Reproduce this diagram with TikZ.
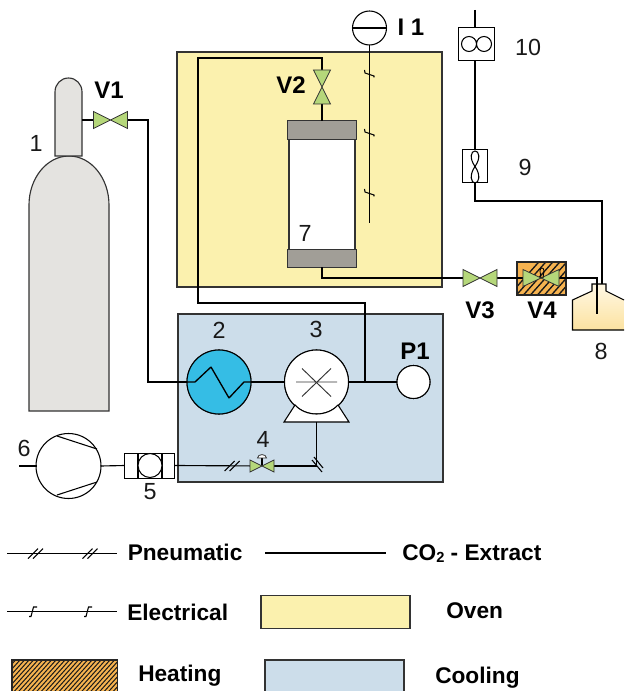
\documentclass[tikz,border=0pt]{standalone}
\usepackage{fontspec}
\setmainfont{Liberation Sans}
\definecolor{ovenc}{HTML}{FBF1AE}
\definecolor{coolc}{HTML}{CCDDEA}
\definecolor{valvec}{HTML}{B5D77A}
\definecolor{capc}{HTML}{A19E97}
\definecolor{cylc}{HTML}{E4E3E0}
\definecolor{hxc}{HTML}{35BDE5}
\definecolor{hatchc}{HTML}{F6B350}
\definecolor{linec}{HTML}{333333}
\definecolor{flasktopc}{HTML}{FFF8E4}
\definecolor{flaskbotc}{HTML}{FCE2A0}
\tikzset{
  zone/.style={draw=linec,line width=.9pt,inner sep=0,outer sep=0},
  pipe/.style={draw=black,line width=1.5pt,line join=miter},
  sig/.style={draw=black,line width=.85pt},
  thinl/.style={draw=black,line width=.8pt},
  valvebox/.style={inner sep=0,outer sep=0,minimum width=25.5pt,minimum height=12.75pt},
  valvev/.style={inner sep=0,outer sep=0,minimum width=12.75pt,minimum height=25.5pt},
  valveshape/.style={fill=valvec,draw=linec,line width=.6pt,line join=miter},
  round1/.style={circle,draw=black,line width=.8pt,inner sep=0,outer sep=0,fill=white},
  capbox/.style={draw=linec,line width=.75pt,fill=capc},
  lab/.style={font=\fontsize{17.5}{20}\selectfont,inner sep=0,text=black!90},
  blab/.style={font=\bfseries\fontsize{17}{20}\selectfont,inner sep=0,text=black},
  vlab/.style={font=\bfseries\fontsize{18}{20}\selectfont,inner sep=0,text=black},
  boxn/.style={draw=black,line width=.75pt,fill=white,inner sep=0,outer sep=0}
}
\newcommand{\hbow}[1]{\draw[valveshape] (#1.north west)--(#1.south east)--(#1.north east)--(#1.south west)--cycle;}
\newcommand{\vbow}[1]{\draw[valveshape] (#1.north west)--(#1.south east)--(#1.south west)--(#1.north east)--cycle;}
\newcommand{\etick}[2]{\draw[thinl] ({#1-5},{#2-5})--({#1-4.5},{#2-2})--({#1+4.5},{#2+1})--({#1+4.5},{#2+2.5});}
\newcommand{\legelec}[2]{\draw[thinl] ({#1+4},{#2-4.5})--({#1+.5},{#2-4.5})--({#1-2},{#2+5})--({#1-4},{#2+5});}
\newcommand{\pnt}[2]{\draw[thinl] ({#1-7.5},{#2+5})--({#1+2.5},{#2-5});\draw[thinl] ({#1-2.5},{#2+5})--({#1+7.5},{#2-5});}
\begin{document}
\begin{tikzpicture}[x=.75pt,y=-.75pt]
\useasboundingbox (0,0) rectangle (624,691);
% zones
\node[zone,fill=ovenc,minimum width=198.75pt,minimum height=176.25pt,anchor=north west] (oven) at (177,52) {};
\node[zone,fill=coolc,minimum width=198.75pt,minimum height=126pt,anchor=north west] (cool) at (178,314) {};
% cylinder
\path[draw=linec,line width=.85pt,fill=cylc] (29,411) -- (29,205) .. controls (29,178) and (47,156) .. (69,156) .. controls (91,156) and (109,178) .. (109,205) -- (109,411) -- cycle;
\path[draw=linec,line width=.85pt,fill=cylc] (55,156) -- (55,92) .. controls (55,84) and (61,78) .. (68.5,78) .. controls (76,78) and (82,84) .. (82,92) -- (82,156) -- cycle;
\coordinate (neck) at (82,120);
% named parts
\node[valvebox] (v1) at (110.5,120) {};
\node[valvev] (v2) at (322,87) {};
\node[valvebox] (v3) at (480,278) {};
\node[inner sep=0,outer sep=0,minimum width=27pt,minimum height=12.75pt] (v4) at (541,278) {};
\node[inner sep=0,outer sep=0,minimum width=18pt,minimum height=9pt] (v5) at (262,466) {};
\node[round1,fill=hxc,minimum size=48pt] (hx) at (219,382) {};
\node[round1,minimum size=48pt] (pump) at (316.5,382) {};
\node[round1,minimum size=24.75pt] (p1) at (413.5,382) {};
\node[round1,minimum size=25.5pt] (i1) at (369.5,28) {};
\node[round1,minimum size=48.75pt] (comp) at (68.5,466) {};
\node[boxn,minimum width=37pt,minimum height=18.75pt] (b5) at (149.5,465.5) {};
\node[boxn,minimum width=27pt,minimum height=24.75pt] (b10) at (476,44) {};
\node[boxn,minimum width=18.75pt,minimum height=24.75pt] (b9) at (474.5,166.5) {};
% column
\node[draw=linec,line width=.85pt,fill=white,minimum width=49.5pt,minimum height=84pt,inner sep=0,outer sep=0] (col) at (322,195) {};
\node[capbox,minimum width=51.75pt,minimum height=14.25pt,inner sep=0,outer sep=0] (cap1) at (322,130.5) {};
\node[capbox,minimum width=51.75pt,minimum height=12.75pt,inner sep=0,outer sep=0] (cap2) at (322,258.5) {};
% flask
\path[draw=black,line width=.8pt,top color=flasktopc,bottom color=flaskbotc] (624,330) -- (572.5,330) -- (572.5,300) -- (592,291) -- (592,284) -- (606,284) -- (606,291) -- (624,300);
\coordinate (flasktop) at (602,284);
\coordinate (flaskin) at (597,314);
% heating box V4
\node[draw=none,fill=hatchc,minimum width=36.75pt,minimum height=24.75pt,inner sep=0,outer sep=0] (heat) at (541.5,278.5) {};
\begin{scope}
\clip (heat.south west) rectangle (heat.north east);
\foreach \i in {0,7,...,100}{\draw[black!90,line width=1pt] ({505+\i},300)--({505+\i+40},255);}
\end{scope}
\draw[draw=black!85,line width=.85pt] (heat.south west) rectangle (heat.north east);
% pipes
\draw[pipe] (neck) -- (v1);
\draw[pipe] (v1) -| (148,382) -- (hx);
\draw[pipe] (hx) -- (pump);
\draw[pipe] (pump) -- (p1);
\draw[pipe] (365,382) -- (365,303) -- (198,303) -- (198,58) -| (v2);
\draw[pipe] (v2) -- (cap1);
\draw[pipe] (cap2) |- (v3);
\draw[pipe] (v3) -- (v4);
\draw[pipe] (v4) -- (597,278) -- (flaskin);
\draw[pipe] (475,183) |- (602,201) -- (flasktop);
\draw[pipe] (475,60) -- (475,150);
\draw[thinl,line width=1pt] (475,10) -- (475,28);
\draw[thinl,line width=1pt] (comp) ++(-32,0) -- (19,466);
% redraw nodes over pipes
\node[round1,fill=hxc,minimum size=48pt] at (hx) {};
\draw[thinl,line width=1pt,line join=bevel] (186,382) -- (195,382) -- (211,367) -- (229,398) -- (244,382) -- (251,382);
\node[round1,minimum size=48pt] at (pump) {};
\draw[draw=linec,line width=.7pt] (296,382) -- (337,382) (302,368.5) -- (331,396.5) (302,396.5) -- (331,368.5);
\draw[draw=black,line width=.8pt,fill=white] (349,422) -- (284,422) -- (295,405) .. controls (306,417) and (327,417) .. (338,405) -- cycle;
\node[round1,minimum size=24.75pt] at (p1) {};
\node[boxn,minimum width=27pt,minimum height=24.75pt] at (b10) {};
\node[boxn,minimum width=18.75pt,minimum height=24.75pt] at (b9) {};
\draw[thinl] (469,44) circle (7.5) (484,44) circle (7.5);
\draw[thinl] (475,166.5) .. controls (469,158) and (471,151) .. (475,151) .. controls (479,151) and (481,158) .. (475,166.5) .. controls (469,175) and (471,183) .. (475,183) .. controls (479,183) and (481,175) .. (475,166.5);
% valves
\hbow{v1}\vbow{v2}\hbow{v3}\hbow{v4}
\draw[thinl,line width=.6pt] (541,278) -- (540,271) .. controls (540,267) and (544,267) .. (544,271) -- (543,278);
% electrical
\coordinate (i1end) at (369.5,223);
\draw[thinl] (i1.south) -- (i1end);
\draw[thinl] (i1.west) -- (i1.east);
\etick{369.5}{75}\etick{369.5}{134}\etick{369.5}{194}
% pneumatic
\draw[sig] (comp) ++(32,0) -- (b5.west);
\node[boxn,minimum width=37pt,minimum height=18.75pt] at (b5) {};
\draw[thinl] (138,453) -- (138,478) (162,453) -- (162,478);
\node[round1,minimum size=18pt] at (150,465.5) {};
\draw[sig] (b5.east) -- (v5);
\draw[sig] (v5) -- (316.5,466) -- (316.5,422);
\draw[sig] (262,466) -- (262,458);
\draw[draw=linec,line width=.6pt,fill=white] (257.5,458) .. controls (257.5,453.5) and (266.5,453.5) .. (266.5,458) -- cycle;
\draw[draw=linec,line width=.6pt,fill=valvec] (v5.north west) -- (v5.south east) -- (v5.north east) -- (v5.south west) -- cycle;
\pnt{232}{466}
\draw[thinl] (312,460) -- (322,472) (314,457) -- (323,468);
\draw[thinl,line width=.8pt] (57,436) -- (97,449) (57,495) -- (97,482);
% labels
\node[lab] (l1) at (36,143.5) {1};
\node[vlab] (lv1) at (109,90.5) {V1};
\node[vlab] (lv2) at (291,85.5) {V2};
\node[vlab] (li1) at (411,27) {I 1};
\node[lab] (l10) at (528,47) {10};
\node[lab] (l9) at (525,167) {9};
\node[lab] (l7) at (305,233) {7};
\node[vlab] (lv3) at (480,310) {V3};
\node[vlab] (lv4) at (542,310) {V4};
\node[lab] (l8) at (601,351) {8};
\node[lab] (l2) at (219,330) {2};
\node[lab] (l3) at (316,329) {3};
\node[vlab] (lp1) at (415,351) {P1};
\node[lab] (l4) at (263,439) {4};
\node[lab] (l5) at (150,492) {5};
\node[lab] (l6) at (24,448) {6};
% legend
\coordinate (pa) at (7,553.5); \coordinate (pb) at (117,553.5);
\draw[thinl] (pa) -- (pb);
\pnt{35.5}{553.5}\pnt{90}{553.5}
\node[blab,anchor=west] (tp) at (127.5,552.5) {Pneumatic};
\coordinate (ca) at (265,553); \coordinate (cb) at (386,553);
\draw[thinl,line width=1.1pt] (ca) -- (cb);
\node[blab,anchor=west] (tc) at (402,553.5) {CO{\fontsize{11}{12}\selectfont\raisebox{-1.5pt}{2}} - Extract};
\coordinate (ea) at (7,611.5); \coordinate (eb) at (117,611.5);
\draw[thinl] (ea) -- (eb);
\legelec{33}{611.5}\legelec{88}{611.5}
\node[blab,anchor=west] (te) at (127,612) {Electrical};
\node[zone,fill=ovenc,minimum width=111.75pt,minimum height=24.75pt,anchor=north west] (lo) at (261,595.5) {};
\node[blab,anchor=west] (to) at (446,610.5) {Oven};
\node[draw=none,fill=hatchc,minimum width=79pt,minimum height=24pt,anchor=north west,inner sep=0,outer sep=0] (lh) at (12,660) {};
\begin{scope}
\clip (lh.south west) rectangle (lh.north east);
\foreach \i in {0,4.5,...,160}{\draw[black!90,line width=.75pt] ({-25+\i},695)--({-25+\i+36},655);}
\end{scope}
\draw[draw=black!85,line width=.85pt] (lh.south west) rectangle (lh.north east);
\node[blab,anchor=west] (th) at (138,676) {Heating};
\node[zone,fill=coolc,minimum width=104.25pt,minimum height=24pt,anchor=north west] (lc) at (265,660) {};
\node[blab,anchor=west] (tl) at (435,678) {Cooling};
\end{tikzpicture}
\end{document}
